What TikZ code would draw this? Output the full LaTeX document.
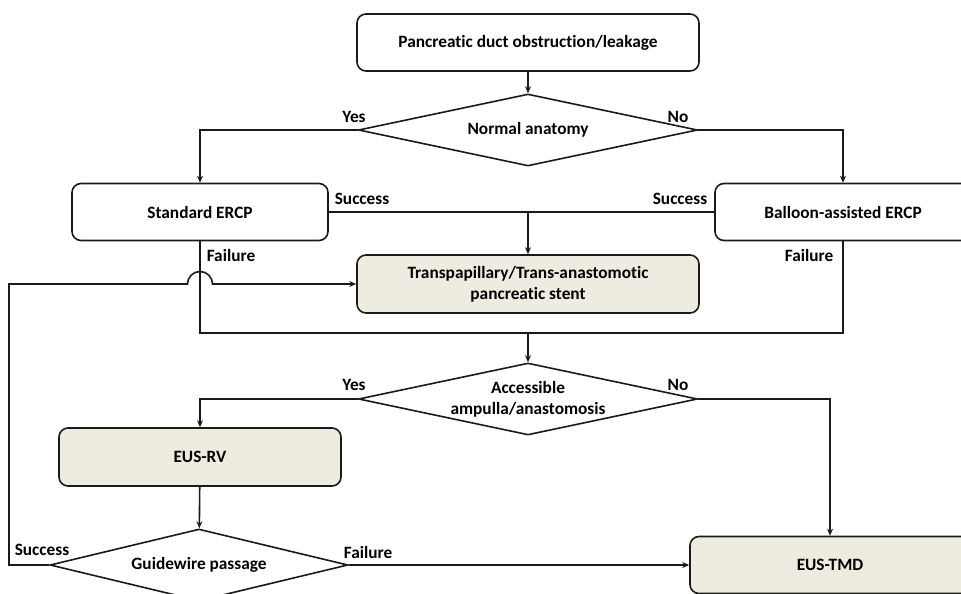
\documentclass[tikz,border=0pt]{standalone}
\usepackage{fontspec}
\setmainfont{Carlito}[Ligatures=NoCommon]
\usetikzlibrary{shapes.geometric,arrows.meta}
\definecolor{boxfill}{HTML}{EEECE1}
\definecolor{ink}{HTML}{1A1A1A}
\tikzset{
  box/.style={draw=ink, line width=1.6pt, rounded corners=9pt, minimum height=57pt, align=center, inner sep=0pt},
  sbox/.style={box, fill=boxfill},
  dec/.style={draw=ink, line width=1.6pt, diamond, shape aspect=4.7, minimum width=339pt, minimum height=72pt, inner sep=0pt, align=center},
  lbl/.style={inner sep=0pt},
  line/.style={draw=ink, line width=1.6pt},
  arr/.style={line, -{Stealth[length=7pt,width=6pt]}}
}
\begin{document}
\begin{tikzpicture}[x=1pt, y=-1pt, font=\fontsize{17.3}{21}\selectfont\bfseries]
\useasboundingbox (0,0) rectangle (961,594);
\clip (0,0) rectangle (961,594);

\node[box, minimum width=342pt] (n01) at (528,42.5) {Pancreatic duct obstruction/leakage};
\node[dec] (d1) at (528,130) {Normal anatomy};

\node[box, minimum width=256pt] (n11) at (200,212) {Standard ERCP};
\node[box, minimum width=256pt] (n12) at (843,212) {Balloon-assisted ERCP};
\node[sbox, minimum width=342pt, minimum height=58pt] (n21) at (528,284) {Transpapillary/Trans-anastomotic\\pancreatic stent};

\node[dec] (d2) at (528,399) {Accessible\\ampulla/anastomosis};
\node[sbox, minimum width=282pt, minimum height=58pt] (n31) at (200,457) {EUS-RV};
\node[dec, minimum width=298pt] (d3) at (199,565) {Guidewire passage};
\node[sbox, minimum width=280pt] (n32) at (830,565) {EUS-TMD};

\node[lbl] (y1) at (354,117) {Yes};
\node[lbl] (no1) at (678,117) {No};
\node[lbl] (s11) at (362,199) {Success};
\node[lbl] (s12) at (680,199) {Success};
\node[lbl] (f11) at (231,255) {Failure};
\node[lbl] (f12) at (809,255) {Failure};
\node[lbl] (y2) at (354,385) {Yes};
\node[lbl] (no2) at (678,385) {No};
\node[lbl] (s31) at (42,550) {Success};
\node[lbl] (f31) at (368,552) {Failure};

\coordinate (s1) at (528,212);
\coordinate (f1) at (528,333);
\coordinate (c1) at (9,565);
\coordinate (c2) at (9,284);
\coordinate (j1) at (187.5,284);

\draw[arr] (n01) -- (d1);
\draw[arr] (d1.west) -| (n11.north);
\draw[arr] (d1.east) -| (n12.north);

\draw[line] (n11.east) -- (n12.west);
\draw[arr] (s1) -- (n21.north);

\draw[line] (n11.south) |- (f1);
\draw[line] (n12.south) |- (f1);
\draw[arr] (f1) -- (d2.north);

\draw[arr] (d2.west) -| (n31.north);
\draw[arr] (d2.east) -| (n32.north);
\draw[arr] (n31) -- (d3);
\draw[arr] (d3.east) -- (n32.west);

\draw[arr] (d3.west) -- (c1) -- (c2) -- (j1) arc[start angle=180, end angle=0, radius=12.5pt] -- (n21.west);
\end{tikzpicture}
\end{document}
